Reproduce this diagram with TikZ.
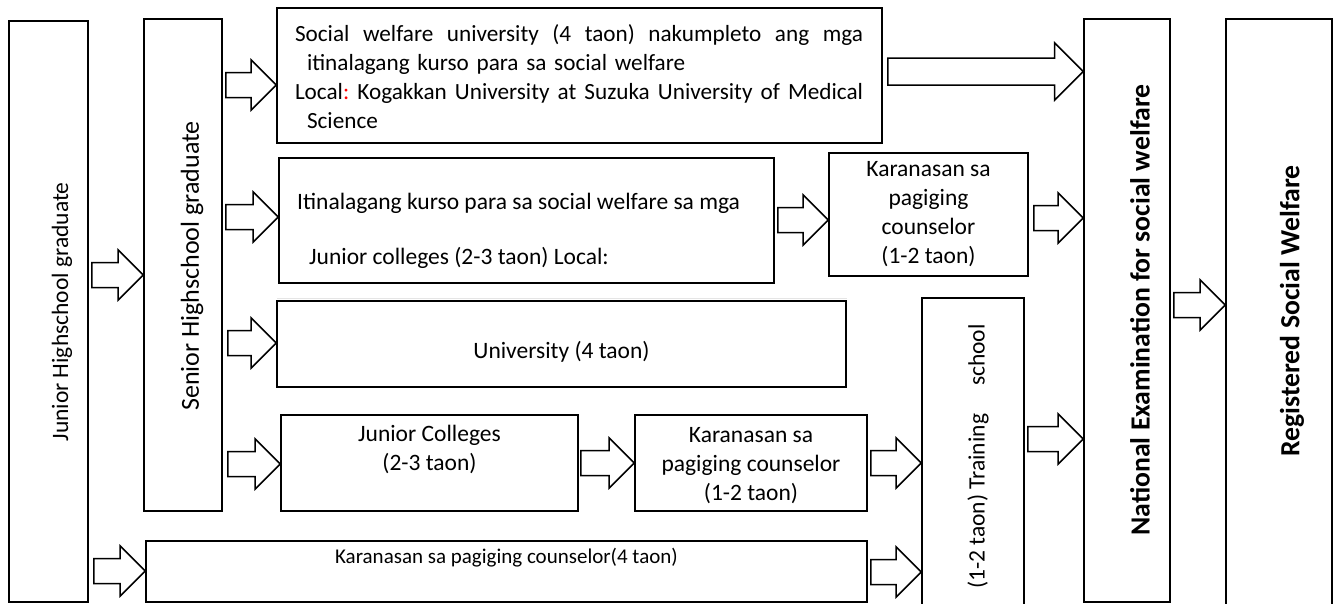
\documentclass[tikz,border=0pt]{standalone}
\usepackage{fontspec}
\setmainfont{Carlito}
\usetikzlibrary{calc}
\newcommand\blockarrow[4]{%
  \draw[arr] let \p1=#1, \p2=#2 in
    (\x1,\y2+#3) -- (\x2-#4,\y2+#3) -- (\x2-#4,\y2+#4) -- (\x2,\y2)
    -- (\x2-#4,\y2-#4) -- (\x2-#4,\y2-#3) -- (\x1,\y2-#3) -- cycle;}
\newcommand\justline[1]{\leavevmode\hbox to 568pt{\frenchspacing\spaceskip=5pt plus 1fil minus 2pt\xspaceskip=\spaceskip #1}}
\begin{document}
\begin{tikzpicture}[x=1pt,y=-1pt,
  box/.style={draw, line width=1.6pt, inner sep=0pt},
  arr/.style={draw, line width=1.5pt, fill=white, line join=miter},
  txt/.style={font=\fontsize{23.5}{29}\selectfont, inner sep=0pt, align=center}]
\useasboundingbox[fill=white] (0,0) rectangle (1336,603);

% boxes
\node[box, minimum width=79pt,  minimum height=581pt] (jhs)   at (48.5,311.5) {};
\node[box, minimum width=78pt,  minimum height=492pt] (shs)   at (183,265) {};
\node[box, minimum width=605pt, minimum height=135pt] (top)   at (579.5,75.5) {};
\node[box, minimum width=495pt, minimum height=125pt] (r2)    at (526.5,220.5) {};
\node[box, minimum width=199pt, minimum height=123pt] (k2)    at (928.5,214.5) {};
\node[box, minimum width=569pt, minimum height=86pt]  (uni)   at (561.5,344) {};
\node[box, minimum width=297pt, minimum height=96pt]  (jc)    at (429.5,463) {};
\node[box, minimum width=232pt, minimum height=96pt]  (k4)    at (751,463) {};
\node[box, minimum width=721pt, minimum height=61pt]  (bot)   at (506.5,571.5) {};
\node[box, minimum width=102pt, minimum height=310pt] (train) at (973,453) {};
\node[box, minimum width=86pt,  minimum height=583pt] (nat)   at (1127,310.5) {};
\node[box, minimum width=106pt, minimum height=590pt] (reg)   at (1279,314) {};

\draw[black!10, line width=1pt] (277,298) -- (847,298);

% texts
\node[txt, rotate=90] (jhst) at (62,312) {Junior Highschool graduate};
\node[txt, rotate=90, font=\fontsize{26}{30}\selectfont] (shst) at (192,266) {Senior Highschool graduate};
\node[txt, align=left, text width=568pt, font=\fontsize{23.2}{29}\selectfont] (topt) at (579,77)
  {\justline{Social welfare university (4 taon) nakumpleto ang mga}\\
   \hspace*{12pt}itinalagang kurso para sa social welfare\\
   \justline{Local{\color{red}:} Kogakkan University at Suzuka University of Medical}\\
   \hspace*{12pt}Science};
\node[txt, align=left, anchor=west] (r2t) at (297,230.5)
  {Itinalagang kurso para sa social welfare sa mga\\[26pt]\hspace*{12pt}Junior colleges (2-3 taon) Local:};
\node[txt] (k2t) at (928.5,214.5) {Karanasan sa\\pagiging\\counselor\\(1-2 taon)};
\node[txt] (unit) at (561.5,352) {University (4 taon)};
\node[txt] (jct) at (429.5,449) {Junior Colleges\\(2-3 taon)};
\node[txt] (k4t) at (751,466) {Karanasan sa\\pagiging counselor\\(1-2 taon)};
\node[txt, font=\fontsize{21}{25}\selectfont] (bott) at (506.5,558) {Karanasan sa pagiging counselor(4 taon)};
\node[txt, rotate=90] (traint) at (978,456.5) {(1-2 taon) Training\hspace{28pt}school};
\node[txt, rotate=90, font=\fontsize{27.7}{32}\selectfont\bfseries] (natt) at (1140,310) {National Examination for social welfare};
\node[txt, rotate=90, font=\fontsize{27.7}{32}\selectfont\bfseries] (regt) at (1292,311) {Registered Social Welfare};

% arrow rows
\coordinate (y1)  at (0,275);
\coordinate (y2)  at (0,85);
\coordinate (y3)  at (0,217);
\coordinate (y4)  at (0,343);
\coordinate (y5)  at (0,464);
\coordinate (y6)  at (0,571);
\coordinate (y7)  at (0,71.5);
\coordinate (y8)  at (0,220);
\coordinate (y9)  at (0,218);
\coordinate (y10) at (0,463);
\coordinate (y11) at (0,463);
\coordinate (y12) at (0,572);
\coordinate (y13) at (0,439);
\coordinate (y14) at (0,305);

\blockarrow{($(jhs.east)+(3,0)$)}{(shs.west |- y1)}{12.5pt}{25pt}
\blockarrow{($(shs.east)+(3,0)$)}{(top.west |- y2)}{12.5pt}{25pt}
\blockarrow{($(shs.east)+(3,0)$)}{(r2.west |- y3)}{12.5pt}{25pt}
\blockarrow{($(shs.east)+(5,0)$)}{(uni.west |- y4)}{12.5pt}{25pt}
\blockarrow{($(shs.east)+(5,0)$)}{(jc.west |- y5)}{12.5pt}{25pt}
\blockarrow{($(jhs.east)+(5,0)$)}{(bot.west |- y6)}{12.5pt}{25pt}
\blockarrow{($(top.east)+(5,0)$)}{(nat.west |- y7)}{13.5pt}{28.5pt}
\blockarrow{($(r2.east)+(3,0)$)}{(k2.west |- y8)}{12.5pt}{25pt}
\blockarrow{($(k2.east)+(5,0)$)}{(nat.west |- y9)}{12.5pt}{25pt}
\blockarrow{($(jc.east)+(2,0)$)}{(k4.west |- y10)}{12.5pt}{25pt}
\blockarrow{($(k4.east)+(3,0)$)}{(train.west |- y11)}{12.5pt}{25pt}
\blockarrow{($(bot.east)+(3,0)$)}{(train.west |- y12)}{12.5pt}{25pt}
\blockarrow{($(train.east)+(3,0)$)}{(nat.west |- y13)}{12.5pt}{25pt}
\blockarrow{($(nat.east)+(3,0)$)}{(reg.west |- y14)}{12.5pt}{25pt}
\end{tikzpicture}
\end{document}
